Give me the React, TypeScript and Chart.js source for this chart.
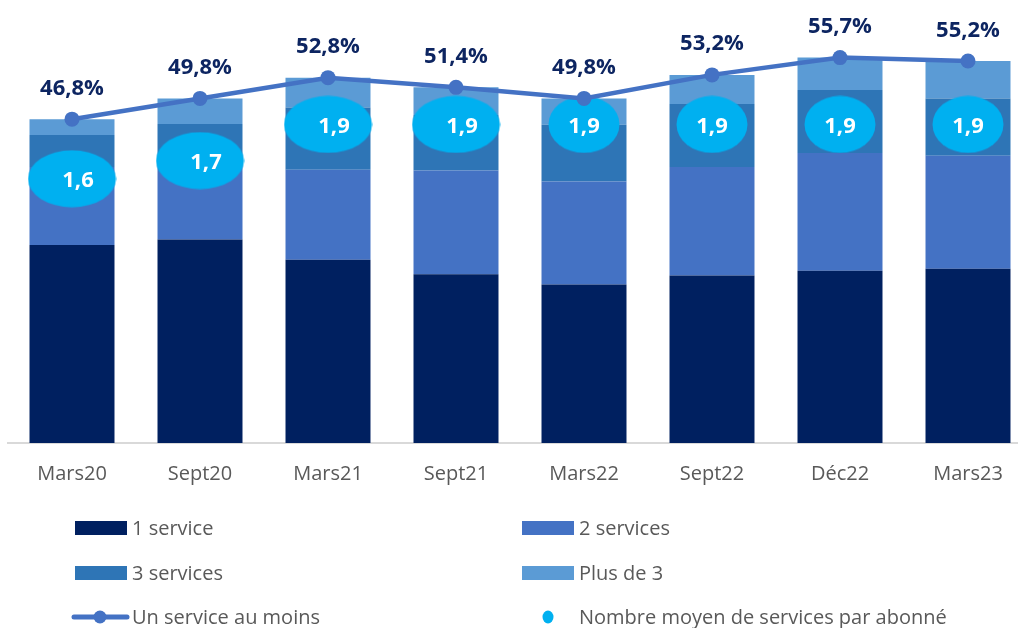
import { useEffect, useRef } from "react";
import { Chart, registerables } from "chart.js";

Chart.register(...registerables);

// ---------- data ----------
const categories = ["Mars20", "Sept20", "Mars21", "Sept21", "Mars22", "Sept22", "Déc22", "Mars23"];
const oneService = [28.6, 29.4, 26.5, 24.4, 22.9, 24.2, 24.9, 25.2];
const twoServices = [11.3, 11.5, 13.0, 15.0, 14.9, 15.7, 17.0, 16.3];
const threeServices = [4.6, 5.2, 9.0, 8.0, 8.2, 9.1, 9.1, 8.3];
const moreThanThree = [2.3, 3.7, 4.3, 4.0, 3.8, 4.2, 4.7, 5.4];
const atLeastOne = [46.8, 49.8, 52.8, 51.4, 49.8, 53.2, 55.7, 55.2];
const avgServices = [1.6, 1.7, 1.9, 1.9, 1.9, 1.9, 1.9, 1.9];

const seriesNames = [
  "1 service",
  "2 services",
  "3 services",
  "Plus de 3",
  "Un service au moins",
  "Nombre moyen de services par abonné",
];

// ---------- styles ----------
const COLORS = {
  one: "#002060",
  two: "#4472C4",
  three: "#2E75B6",
  plus: "#5B9BD5",
  line: "#4472C4",
  bubble: "#00B0F0",
  pctText: "#0D2561",
  axisText: "#595959",
};
const FONT = "'Open Sans', 'Noto Sans', sans-serif";
const bubbleWide = [true, true, true, true, false, false, false, false];

const fmt = (v: number) => v.toFixed(1).replace(".", ",");

function makeEllipse(w: number, h: number, color: string) {
  const c = document.createElement("canvas");
  c.width = w;
  c.height = h;
  const g = c.getContext("2d")!;
  g.fillStyle = color;
  g.beginPath();
  g.ellipse(w / 2, h / 2, w / 2 - 0.5, h / 2 - 0.5, 0, 0, Math.PI * 2);
  g.fill();
  return c;
}

const labelsPlugin = {
  id: "customLabels",
  afterDatasetsDraw(chart: any) {
    const ctx = chart.ctx as CanvasRenderingContext2D;
    ctx.save();
    // percentage labels above line
    const lineMeta = chart.getDatasetMeta(4);
    ctx.font = `bold 22px ${FONT}`;
    ctx.fillStyle = COLORS.pctText;
    ctx.textAlign = "center";
    ctx.textBaseline = "alphabetic";
    lineMeta.data.forEach((pt: any, i: number) => {
      ctx.fillText(fmt(atLeastOne[i]) + "%", pt.x, pt.y - 24.5);
    });
    // bubble labels
    const bubMeta = chart.getDatasetMeta(5);
    ctx.font = `bold 22px ${FONT}`;
    ctx.fillStyle = "#FFFFFF";
    bubMeta.data.forEach((pt: any, i: number) => {
      const shift = bubbleWide[i] ? 6 : 0;
      ctx.fillText(fmt(avgServices[i]), pt.x + shift, pt.y + 8.5);
    });
    ctx.restore();
  },
  afterDraw(chart: any) {
    const ctx = chart.ctx as CanvasRenderingContext2D;
    ctx.save();
    const rows = [528, 573, 617];
    const colBox = [75, 522];
    const colText = [132, 579];
    const boxColors = [COLORS.one, COLORS.two, COLORS.three, COLORS.plus];
    ctx.font = `20px ${FONT}`;
    ctx.fillStyle = COLORS.axisText;
    ctx.textAlign = "left";
    ctx.textBaseline = "middle";
    for (let k = 0; k < 4; k++) {
      const r = Math.floor(k / 2);
      const c = k % 2;
      ctx.fillStyle = boxColors[k];
      ctx.fillRect(colBox[c], rows[r] - 7, 52, 14);
      ctx.fillStyle = COLORS.axisText;
      ctx.fillText(seriesNames[k], colText[c], rows[r] + 1);
    }
    // line legend
    ctx.strokeStyle = COLORS.line;
    ctx.lineWidth = 5;
    ctx.lineCap = "round";
    ctx.beginPath();
    ctx.moveTo(74, rows[2]);
    ctx.lineTo(127, rows[2]);
    ctx.stroke();
    ctx.fillStyle = COLORS.line;
    ctx.beginPath();
    ctx.arc(100, rows[2], 6.5, 0, Math.PI * 2);
    ctx.fill();
    ctx.fillStyle = COLORS.axisText;
    ctx.fillText(seriesNames[4], colText[0], rows[2] + 1);
    // bubble legend
    ctx.fillStyle = COLORS.bubble;
    ctx.beginPath();
    ctx.ellipse(548, rows[2], 5.5, 6.5, 0, 0, Math.PI * 2);
    ctx.fill();
    ctx.fillStyle = COLORS.axisText;
    ctx.fillText(seriesNames[5], colText[1], rows[2] + 1);
    ctx.restore();
  },
};

export default function App() {
  const canvasRef = useRef<HTMLCanvasElement | null>(null);

  useEffect(() => {
    if (!canvasRef.current) return;
    const wide = makeEllipse(89, 58, COLORS.bubble);
    const narrow = makeEllipse(72, 58, COLORS.bubble);
    const bubbleStyles = bubbleWide.map((w) => (w ? wide : narrow));

    const barCommon = {
      type: "bar" as const,
      yAxisID: "y",
      order: 3,
      barPercentage: 1,
      categoryPercentage: 0.664,
      borderWidth: 0,
    };

    const chart = new Chart(canvasRef.current, {
      type: "bar",
      data: {
        labels: categories,
        datasets: [
          { ...barCommon, label: seriesNames[0], data: oneService, backgroundColor: COLORS.one },
          { ...barCommon, label: seriesNames[1], data: twoServices, backgroundColor: COLORS.two },
          { ...barCommon, label: seriesNames[2], data: threeServices, backgroundColor: COLORS.three },
          { ...barCommon, label: seriesNames[3], data: moreThanThree, backgroundColor: COLORS.plus },
          {
            type: "line",
            label: seriesNames[4],
            data: atLeastOne,
            yAxisID: "yLine",
            order: 1,
            borderColor: COLORS.line,
            borderWidth: 4.5,
            pointRadius: 7.5,
            pointBackgroundColor: COLORS.line,
            pointBorderWidth: 0,
            tension: 0,
            clip: false,
          },
          {
            type: "line",
            label: seriesNames[5],
            data: avgServices,
            yAxisID: "y2",
            order: 2,
            showLine: false,
            pointStyle: bubbleStyles as any,
            pointRadius: 30,
            pointBackgroundColor: COLORS.bubble,
            clip: false,
          },
        ] as any,
      },
      options: {
        animation: false,
        responsive: true,
        maintainAspectRatio: false,
        layout: { autoPadding: false, padding: { left: 8, right: 8, top: 14, bottom: 0 } },
        plugins: { legend: { display: false }, tooltip: { enabled: false } },
        scales: {
          x: {
            stacked: true,
            grid: { display: false, drawTicks: false },
            border: { display: true, color: "#D9D9D9", width: 2 },
            ticks: { color: COLORS.axisText, font: { family: FONT, size: 20 }, padding: 19, maxRotation: 0 },
            afterFit: (s: any) => {
              s.height = 185;
            },
          },
          y: { stacked: true, display: false, min: 0, max: 62 },
          yLine: { display: false, min: 0, max: 62 },
          y2: { display: false, min: 0.14, max: 2.51 },
        },
      },
      plugins: [labelsPlugin],
    } as any);
    return () => chart.destroy();
  }, []);

  return (
    <div style={{ position: "fixed", left: 0, top: 0, width: 1018, height: 628, overflow: "hidden", background: "#fff" }}>
      <div style={{ position: "relative", width: 1040, height: 628 }}>
        <canvas ref={canvasRef} />
      </div>
    </div>
  );
}
